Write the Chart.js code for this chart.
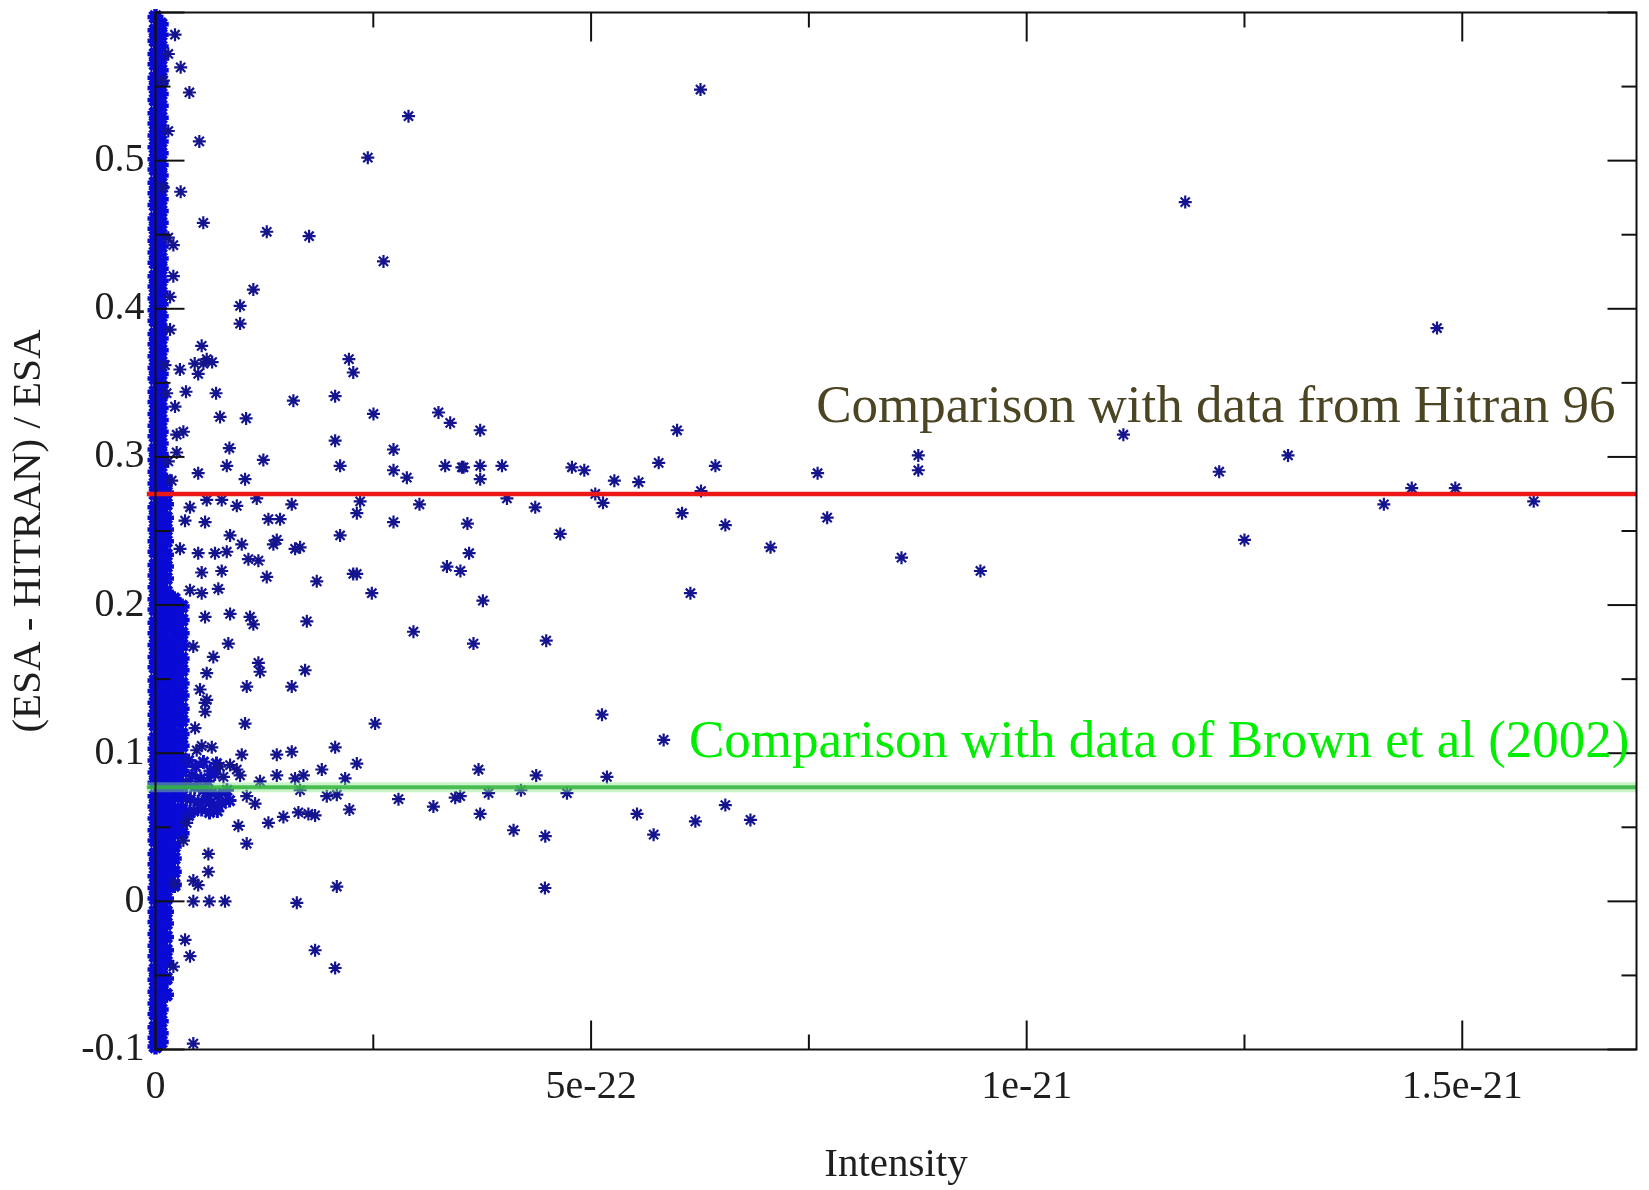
<!DOCTYPE html>
<html>
<head>
<meta charset="utf-8">
<script src="https://cdn.jsdelivr.net/npm/chart.js@4.4.1/dist/chart.umd.min.js"></script>
<style>
  html, body { margin: 0; padding: 0; background: #fff; }
</style>
</head>
<body>
<canvas id="canvas" width="1649" height="1190"></canvas>
<script>
// x values are intensities in units of 1e-22, y is (ESA - HITRAN) / ESA
var xTickValues = [0, 5, 10, 15];
var xTickLabels = ['0', '5e-22', '1e-21', '1.5e-21'];
var xMinorTicks = [2.5, 7.5, 12.5];
var yTickValues = [-0.1, 0, 0.1, 0.2, 0.3, 0.4, 0.5, 0.6];
var yTickLabels = ['-0.1', '0', '0.1', '0.2', '0.3', '0.4', '0.5', ''];
var yMinorTicks = [-0.05, 0.05, 0.15, 0.25, 0.35, 0.45, 0.55];

// mean ratios of the two comparisons
var hitranMean = 0.275;
var brownMean = 0.077;
var meanLineX = [-0.1, 17];
var hitranNote = 'Comparison with data from Hitran 96';
var brownNote = 'Comparison with data of Brown et al (2002)';

// dense band of weak lines close to zero intensity
var bandAx = 0.0;
var bandAy = [0.597,0.588,0.581,0.572,0.565,0.556,0.549,0.541,0.532,0.525,0.517,0.509,0.501,0.494,0.485,0.478,0.47,0.461,0.454,0.446,0.438,0.431,0.422,0.415,0.407,0.399,0.392,0.383,0.376,0.368,0.36,0.353,0.344,0.337,0.329,0.321,0.314,0.305,0.298,0.29,0.282,0.275,0.266,0.259,0.251,0.243,0.236,0.227,0.22,0.212,0.204,0.197,0.188,0.181,0.173,0.165,0.158,0.149,0.142,0.134,0.126,0.119,0.11,0.103,0.095,0.087,0.08,0.071,0.064,0.056,0.048,0.041,0.032,0.025,0.017,0.009,0.002,-0.007,-0.014,-0.022,-0.03,-0.037,-0.046,-0.053,-0.061,-0.069,-0.076,-0.085,-0.092,-0.098];
var bandBx = 0.06;
var bandBy = [0.592,0.585,0.577,0.569,0.561,0.553,0.545,0.537,0.529,0.521,0.513,0.505,0.497,0.49,0.482,0.474,0.466,0.458,0.45,0.442,0.434,0.427,0.419,0.411,0.403,0.395,0.387,0.38,0.372,0.364,0.356,0.348,0.341,0.333,0.325,0.317,0.309,0.302,0.294,0.286,0.278,0.27,0.262,0.255,0.247,0.239,0.231,0.224,0.216,0.208,0.2,0.192,0.184,0.177,0.169,0.161,0.153,0.145,0.138,0.13,0.122,0.114,0.106,0.099,0.091,0.083,0.075,0.067,0.06,0.052,0.044,0.036,0.028,0.021,0.013,0.005,-0.003,-0.011,-0.018,-0.026,-0.034,-0.042,-0.05,-0.057,-0.065,-0.073,-0.081,-0.089,-0.095];
var bandCx = 0.12;
var bandCy = [0.284,0.276,0.268,0.259,0.251,0.243,0.234,0.226,0.218,0.209,0.201,0.193,0.185,0.176,0.168,0.16,0.151,0.143,0.135,0.126,0.118,0.11,0.101,0.093,0.085,0.077,0.068,0.06,0.052,0.043,0.035,0.027,0.018,0.01,0.002,-0.007,-0.015,-0.024,-0.033,-0.041,-0.052,-0.063];
var bandDx = 0.21;
var bandDy = [0.204,0.196,0.187,0.179,0.171,0.162,0.154,0.146,0.137,0.129,0.121,0.112,0.104,0.096,0.087,0.079,0.071,0.062,0.054,0.046,0.037,0.029,0.02,0.011];
var bandEx = 0.3;
var bandEy = [0.199,0.19,0.181,0.173,0.164,0.156,0.147,0.139,0.13,0.122,0.113,0.105,0.096,0.088,0.079,0.071,0.062,0.054,0.046];
var clusterPts = [[0.38,0.095],[0.46,0.091],[0.55,0.094],[0.63,0.088],[0.7,0.093],[0.42,0.085],[0.52,0.083],[0.6,0.081],[0.68,0.086],[0.36,0.079],[0.45,0.077],[0.55,0.075],[0.64,0.073],[0.73,0.072],[0.82,0.075],[0.4,0.069],[0.49,0.067],[0.58,0.068],[0.67,0.065],[0.76,0.066],[0.85,0.068],[0.44,0.061],[0.53,0.062],[0.62,0.06],[0.71,0.061],[0.38,0.058]];

// individual lines
var linePts = [
  [0.224,0.585],[0.147,0.572],[0.289,0.563],[0.389,0.546],[0.09,0.554],[2.904,0.530],[0.147,0.520],[0.503,0.513],
  [2.437,0.502],[0.289,0.479],[0.09,0.482],[0.549,0.458],[1.277,0.452],[1.763,0.449],[0.147,0.448],[0.205,0.443],
  [2.617,0.432],[0.205,0.422],[1.123,0.413],[0.167,0.408],[0.971,0.402],[0.971,0.390],[0.167,0.386],[0.53,0.375],
  [0.109,0.362],[2.22,0.366],[0.588,0.366],[0.28,0.359],[0.45,0.363],[0.55,0.363],[0.65,0.364],[0.49,0.356],
  [2.27,0.357],[0.35,0.344],[0.128,0.343],[0.695,0.343],[1.583,0.338],[2.062,0.341],[0.224,0.334],[0.741,0.327],
  [1.04,0.326],[2.502,0.329],[3.248,0.330],[3.383,0.323],[0.32,0.317],[0.243,0.315],[2.062,0.311],[2.732,0.305],
  [0.848,0.306],[0.243,0.303],[1.238,0.298],[0.818,0.294],[2.119,0.294],[2.732,0.291],[2.885,0.286],[3.325,0.294],
  [3.517,0.293],[0.49,0.289],[1.028,0.285],[0.186,0.284],[0.147,0.297],
  [0.588,0.271],[0.76,0.271],[0.933,0.267],[1.162,0.272],[1.564,0.268],[2.349,0.27],[2.311,0.262],[3.03,0.268],
  [0.396,0.266],[0.339,0.257],[0.569,0.256],[1.296,0.258],[1.43,0.258],[2.732,0.256],[3.58,0.255],[0.856,0.247],
  [2.119,0.247],[0.99,0.241],[1.353,0.241],[1.392,0.244],[1.602,0.238],[1.66,0.239],[0.281,0.238],[0.49,0.235],
  [0.683,0.235],[0.818,0.236],[1.066,0.231],[1.181,0.23],[3.6,0.235],[0.76,0.223],[0.53,0.222],[1.277,0.219],
  [2.27,0.221],[2.31,0.221],[1.851,0.216],[3.345,0.226],[3.5,0.223],[0.396,0.21],[0.53,0.208],[0.721,0.211],
  [2.483,0.208],[0.569,0.192],[0.856,0.194],[1.085,0.192],[1.123,0.187],[1.737,0.189],[2.961,0.182],[0.836,0.174],
  [0.434,0.172],[0.664,0.165],[1.181,0.161],[1.2,0.155],[1.717,0.156],[0.588,0.154],[1.047,0.145],[1.564,0.145],
  [0.511,0.143],[0.588,0.136],
  [0.57,0.134],[0.57,0.128],[1.028,0.12],[2.521,0.12],[0.454,0.117],[2.062,0.104],[1.392,0.099],[1.564,0.101],
  [0.99,0.099],[0.53,0.105],[2.311,0.093],[0.74,0.091],[0.856,0.092],[0.933,0.089],[0.78,0.084],[0.971,0.085],
  [0.473,0.102],[0.646,0.104],[1.392,0.085],[1.909,0.089],[1.602,0.083],[1.698,0.085],[2.177,0.083],[1.2,0.081],
  [1.66,0.075],[1.966,0.071],[2.081,0.072],[1.047,0.071],[1.143,0.066],[2.789,0.069],[3.19,0.064],[3.44,0.07],
  [1.64,0.06],[1.755,0.059],[1.832,0.058],[2.226,0.062],[1.468,0.057],[1.296,0.053],[0.951,0.051],[1.047,0.039],
  [0.358,0.053],[0.32,0.041],[0.607,0.032],[0.607,0.02],[0.434,0.014],[0.49,0.011],[0.224,0.012],[2.081,0.01],
  [0.434,0.0],[0.618,0.0],[0.798,0.0],[1.622,-0.001],[0.339,-0.026],[0.396,-0.037],[0.205,-0.044],[1.832,-0.033],
  [2.062,-0.045],[0.434,-0.096],
  [3.727,0.318],[5.987,0.318],[3.536,0.293],[3.727,0.294],[3.727,0.285],[3.977,0.294],[4.78,0.293],[4.922,0.291],
  [5.776,0.296],[6.427,0.294],[7.6,0.289],[5.267,0.284],[5.546,0.283],[4.034,0.272],[5.048,0.275],[5.137,0.269],
  [6.262,0.277],[4.359,0.266],[6.044,0.262],[6.541,0.254],[7.71,0.259],[4.646,0.248],[7.06,0.239],[6.14,0.208],
  [3.758,0.203],[3.65,0.174],[4.485,0.176],[5.125,0.126],[5.833,0.109],[3.708,0.089],[4.37,0.085],[5.182,0.084],
  [3.823,0.073],[4.195,0.075],[4.723,0.073],[3.498,0.071],[3.727,0.059],[4.11,0.048],[4.474,0.044],[5.527,0.059],
  [5.718,0.045],[6.197,0.054],[6.541,0.065],[6.829,0.055],[4.47,0.009],
  [6.256,0.548],[11.82,0.472],[14.71,0.387],[11.11,0.315],[12.21,0.29],[13.0,0.301],[8.756,0.301],[8.756,0.291],
  [12.5,0.244],[8.563,0.232],[9.469,0.223],[14.1,0.268],[14.42,0.279],[14.92,0.279],[15.82,0.27]
];

function columnPoints(x, ys) {
  return ys.map(function(y) { return {x: x, y: y}; });
}
function pairPoints(pts) {
  return pts.map(function(p) { return {x: p[0], y: p[1]}; });
}

var bandData = [].concat(
  columnPoints(bandAx, bandAy), columnPoints(bandBx, bandBy), columnPoints(bandCx, bandCy),
  columnPoints(bandDx, bandDy), columnPoints(bandEx, bandEy)
);

var serif = 'Liberation Serif';

var frameAndNotes = {
  id: 'frameAndNotes',
  afterDatasetsDraw: function(chart) {
    var ctx = chart.ctx, area = chart.chartArea;
    var xs = chart.scales.x, ys = chart.scales.y;
    ctx.save();
    ctx.strokeStyle = '#111';
    ctx.lineWidth = 2;
    ctx.strokeRect(area.left, area.top, area.right - area.left, area.bottom - area.top);

    function seg(x1, y1, x2, y2) {
      ctx.beginPath(); ctx.moveTo(x1, y1); ctx.lineTo(x2, y2); ctx.stroke();
    }
    function xTick(v, len) {
      var px = xs.getPixelForValue(v);
      seg(px, area.bottom, px, area.bottom - len);
      seg(px, area.top, px, area.top + len);
    }
    function yTick(v, len) {
      var py = ys.getPixelForValue(v);
      seg(area.left, py, area.left + len, py);
      seg(area.right, py, area.right - len, py);
    }
    xTickValues.forEach(function(v) { xTick(v, 29); });
    xMinorTicks.forEach(function(v) { xTick(v, 15); });
    yTickValues.forEach(function(v) { yTick(v, 29); });
    yMinorTicks.forEach(function(v) { yTick(v, 15); });

    ctx.font = '53px "' + serif + '"';
    ctx.textAlign = 'right';
    ctx.textBaseline = 'alphabetic';
    ctx.fillStyle = '#4b4524';
    ctx.fillText(hitranNote, area.right - 21, ys.getPixelForValue(hitranMean) - 72);
    ctx.fillStyle = '#00ee00';
    ctx.fillText(brownNote, area.right - 7, ys.getPixelForValue(brownMean) - 30);
    ctx.restore();
  }
};

var ctx = document.getElementById('canvas').getContext('2d');
var myChart = new Chart(ctx, {
  type: 'scatter',
  data: {
    datasets: [{
      type: 'line',
      label: 'Hitran 96 mean',
      data: meanLineX.map(function(x) { return {x: x, y: hitranMean}; }),
      borderColor: 'rgb(236,24,24)',
      borderWidth: 4.5,
      pointRadius: 0,
      clip: false,
      order: 0
    }, {
      type: 'line',
      label: 'Brown mean',
      data: meanLineX.map(function(x) { return {x: x, y: brownMean}; }),
      borderColor: 'rgba(50,180,60,0.85)',
      borderWidth: 4,
      pointRadius: 0,
      clip: false,
      order: 0
    }, {
      type: 'line',
      label: 'Brown mean halo',
      data: meanLineX.map(function(x) { return {x: x, y: brownMean}; }),
      borderColor: 'rgba(140,230,140,0.45)',
      borderWidth: 10,
      pointRadius: 0,
      clip: false,
      order: 0
    }, {
      label: 'lines',
      data: pairPoints(linePts),
      pointStyle: 'star',
      pointRadius: 6.5,
      borderWidth: 2.2,
      borderColor: '#14148e',
      backgroundColor: '#14148e',
      clip: false,
      order: 1
    }, {
      label: 'cluster',
      data: pairPoints(clusterPts),
      pointStyle: 'star',
      pointRadius: 7,
      borderWidth: 3,
      borderColor: '#1010b8',
      backgroundColor: '#1010b8',
      clip: false,
      order: 1
    }, {
      label: 'weak lines',
      data: bandData,
      pointStyle: 'star',
      pointRadius: 8,
      borderWidth: 4.5,
      borderColor: '#0a0ad6',
      backgroundColor: '#0a0ad6',
      clip: false,
      order: 2
    }]
  },
  options: {
    responsive: false,
    animation: false,
    devicePixelRatio: 1,
    layout: { padding: { top: 11.6, right: 11.8, left: 0, bottom: 0 } },
    plugins: { legend: { display: false }, tooltip: { enabled: false } },
    scales: {
      x: {
        type: 'linear',
        min: 0,
        max: 17,
        grid: { display: false, drawTicks: false },
        border: { display: false },
        afterBuildTicks: function(scale) {
          scale.ticks = xTickValues.map(function(v) { return {value: v}; });
        },
        afterFit: function(scale) {
          scale.height = 140.5;
          scale.paddingLeft = 0;
          scale.paddingRight = 0;
        },
        ticks: {
          padding: 14,
          color: '#1e1e1e',
          font: { family: serif, size: 40 },
          callback: function(value, index) { return xTickLabels[index]; }
        },
        title: {
          display: true,
          text: 'Intensity',
          color: '#1e1e1e',
          font: { family: serif, size: 41 },
          padding: { top: 0, bottom: 0 }
        }
      },
      y: {
        type: 'linear',
        min: -0.1,
        max: 0.6,
        grid: { display: false, drawTicks: false },
        border: { display: false },
        afterBuildTicks: function(scale) {
          scale.ticks = yTickValues.map(function(v) { return {value: v}; });
        },
        afterFit: function(scale) {
          scale.width = 155.5;
          scale.paddingTop = 0;
          scale.paddingBottom = 0;
        },
        ticks: {
          padding: 11,
          color: '#1e1e1e',
          font: { family: serif, size: 40 },
          callback: function(value, index) { return yTickLabels[index]; }
        },
        title: {
          display: true,
          text: '(ESA - HITRAN) / ESA',
          color: '#1e1e1e',
          font: { family: serif, size: 41 },
          padding: { top: 5, bottom: 0 }
        }
      }
    }
  },
  plugins: [frameAndNotes]
});
</script>
</body>
</html>
